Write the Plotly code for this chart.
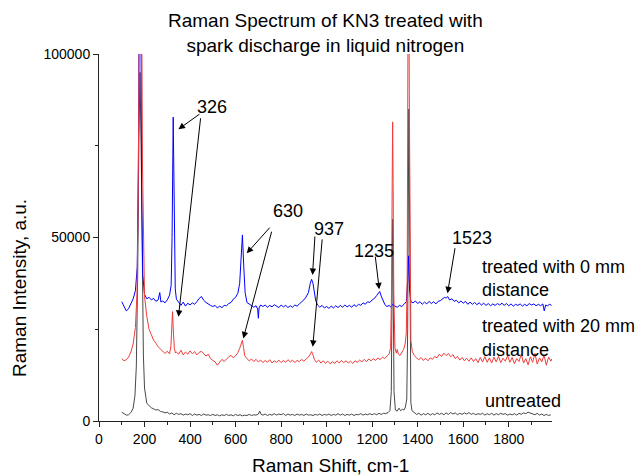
import plotly.graph_objects as go

# ---------------- data ----------------
blue_pts = [(100,32500),(110,31000),(120,30000),(130,30600),(140,31800),(150,33300),(160,35500),(168,42000),
(173,70000),(177,130000),(180,160000),(183,130000),(187,65000),(192,40000),(200,34500),(210,33300),(220,33700),
(230,33000),(240,33400),(250,32600),(260,33000),(267,35000),(272,32400),(280,32700),(290,32200),(300,33000),
(310,34300),(317,37000),(321,50000),(324,75000),(326,82800),(328,72000),(331,48000),(335,36000),(340,33200),
(350,32300),(360,31500),(370,32400),(380,31300),(390,32100),(400,31600),(410,32200),(420,31800),(430,32500),
(440,33400),(450,33900),(460,32900),(470,32300),(480,31800),(490,31500),(500,31200),(510,31500),(520,30800),
(530,31300),(540,30900),(550,31500),(560,31400),(570,32000),(580,32300),(590,33200),(600,33700),(610,34800),
(618,37500),(624,44000),(630,50700),(636,42000),(642,35000),(650,32300),(660,31800),(670,31500),(680,31000),
(690,31400),(697,30500),(700,28000),(703,30800),(710,31600),(720,31200),(730,31600),(740,31000),(750,31500),
(760,31100),(770,31700),(780,31200),(790,30900),(800,31600),(810,31100),(820,31500),(830,30900),(840,31400),
(850,31000),(860,31600),(870,31300),(880,31900),(890,32400),(900,33000),(910,33800),(920,35000),(928,37500),
(934,38600),(940,37500),(946,35000),(952,32800),(960,31600),(970,31000),(980,31500),(990,30800),(1000,31200),
(1010,30700),(1020,31300),(1030,30800),(1040,31400),(1050,30900),(1060,31500),(1070,31000),(1080,31600),
(1090,31100),(1100,31500),(1110,31000),(1120,31700),(1130,31200),(1140,31800),(1150,31500),(1160,32200),
(1170,31800),(1180,32500),(1190,32300),(1200,33000),(1210,33400),(1220,34200),(1227,35000),(1233,35300),
(1240,34000),(1248,32600),(1256,31700),(1265,31200),(1275,31500),(1282,31000),(1290,31800),(1300,31300),
(1310,31000),(1320,31500),(1330,31200),(1340,31800),(1350,32500),(1356,38000),(1360,45000),(1364,36000),
(1370,32500),(1380,32200),(1390,32700),(1400,32000),(1410,32500),(1420,31800),(1430,32400),(1440,31900),
(1450,32600),(1460,32000),(1470,32500),(1480,31900),(1490,32600),(1500,32800),(1510,33200),(1518,33700),
(1525,33500),(1532,33900),(1540,33000),(1550,33300),(1560,32600),(1570,32900),(1580,32200),(1590,32700),
(1600,32100),(1610,32600),(1620,31800),(1630,32400),(1640,31800),(1650,32300),(1660,31700),(1670,32200),
(1680,31600),(1690,32100),(1700,31500),(1710,32000),(1720,31400),(1730,31900),(1740,31500),(1750,32000),
(1760,31600),(1770,32100),(1780,31500),(1790,32000),(1800,31400),(1810,31900),(1820,31300),(1830,31800),
(1840,31500),(1850,31900),(1860,31300),(1870,31800),(1880,31400),(1890,32000),(1900,31600),(1910,31900),
(1920,31400),(1930,31800),(1940,31400),(1950,31900),(1956,30000),(1962,31600),(1970,31400),(1980,31800),(1988,31500)]

red_pts = [(100,17000),(110,16400),(120,16700),(130,17400),(140,18800),(150,21000),(160,25500),(167,35000),
(172,60000),(177,110000),(182,160000),(187,120000),(191,70000),(195,45000),(200,34000),(210,28500),(220,25000),
(230,23500),(240,22000),(250,21200),(260,20200),(270,19600),(280,19000),(290,18400),(300,19000),(310,18300),
(316,20500),(320,25000),(323,29800),(327,24000),(331,19800),(336,18500),(340,18800),(350,18200),(360,19300),
(370,18000),(380,18800),(390,18200),(400,19100),(410,18300),(420,18900),(430,18000),(440,18700),(450,19000),
(460,18200),(470,17700),(480,18200),(490,17000),(500,16500),(510,16100),(520,15200),(530,16000),(540,16800),
(550,16200),(560,17000),(570,17500),(580,17900),(590,17200),(600,17800),(610,18600),(618,19800),(624,21000),
(630,22000),(635,20000),(640,17800),(650,17000),(660,16400),(670,16900),(680,16200),(690,16800),(700,16100),
(710,16600),(720,15900),(730,16500),(740,16000),(750,16700),(760,15800),(770,16400),(780,16000),(790,16600),
(800,15900),(810,16500),(820,16000),(830,16700),(840,16100),(850,16600),(860,15900),(870,16500),(880,16200),
(890,16800),(900,16300),(910,16900),(920,17400),(928,18200),(934,18900),(940,18000),(946,16800),(955,16000),
(965,16600),(975,15800),(985,16400),(995,15700),(1005,16300),(1015,15600),(1025,16200),(1035,15700),
(1045,16400),(1055,15800),(1065,16500),(1075,15900),(1085,16400),(1095,15800),(1105,16300),(1115,15700),
(1125,16400),(1135,16000),(1145,16600),(1155,16100),(1165,16800),(1175,16200),(1185,16900),(1195,16400),
(1205,17000),(1215,16500),(1225,17200),(1235,16700),(1245,17400),(1255,17000),(1265,17800),(1275,18300),
(1281,20000),(1285,35000),(1288,65000),(1290,81500),(1292,65000),(1295,35000),(1300,20000),(1306,18500),
(1310,19500),(1315,18200),(1322,17800),(1330,18600),(1338,19500),(1345,21000),(1350,24000),(1354,40000),
(1357,90000),(1360,160000),(1363,90000),(1366,40000),(1370,22000),(1376,19000),(1385,17800),(1395,17200),
(1405,16700),(1415,17300),(1425,16500),(1435,17100),(1445,16400),(1455,17200),(1465,16800),(1475,17600),
(1485,17200),(1495,18200),(1505,17600),(1515,18500),(1525,17800),(1535,18400),(1545,17500),(1555,18100),
(1565,17000),(1575,17600),(1585,16600),(1595,17300),(1605,16400),(1615,17100),(1625,16300),(1635,17200),
(1645,16200),(1655,17000),(1665,15900),(1675,17300),(1685,16100),(1695,17500),(1705,16000),(1715,17200),
(1725,15800),(1735,17400),(1745,16100),(1755,17600),(1765,15900),(1775,17100),(1785,16300),(1795,17800),
(1805,16000),(1815,17300),(1825,15600),(1835,17000),(1845,16200),(1855,18200),(1865,15800),(1875,17000),
(1885,15300),(1895,17500),(1905,16000),(1915,18400),(1925,15500),(1935,17200),(1945,16100),(1955,18000),
(1965,15200),(1975,17400),(1985,16300),(1990,17000)]

gray_pts = [(100,2400),(110,1900),(120,1600),(130,1700),(140,2300),(150,3500),(158,7000),(164,15000),(170,40000),
(175,75000),(180,95000),(185,75000),(190,40000),(195,18000),(200,9000),(205,6000),(210,4800),(220,4200),
(230,3600),(240,3300),(250,3000),(260,3100),(270,2600),(280,2500),(290,2200),(300,2400),(310,1900),(320,2200),
(330,1700),(340,2100),(350,1800),(360,2000),(370,1600),(380,1900),(390,1700),(400,2000),(410,1500),(420,1900),
(430,1600),(440,1800),(450,1500),(460,1900),(470,1600),(480,1700),(490,1500),(500,1800),(510,1500),(520,1700),
(530,1400),(540,1700),(550,1500),(560,1800),(570,1500),(580,1700),(590,1400),(600,1800),(610,1500),(620,1700),
(630,1400),(640,1600),(650,1500),(660,1800),(670,1500),(680,1700),(690,1600),(700,1900),(706,2700),(712,1800),
(720,1600),(730,1900),(740,1500),(750,1800),(760,1600),(770,2000),(780,1600),(790,1900),(800,1700),(810,2000),
(820,1500),(830,1900),(840,1600),(850,1800),(860,1500),(870,1900),(880,1600),(890,1800),(900,1500),(910,1900),
(920,1600),(930,1700),(940,1500),(950,1800),(960,1600),(970,1900),(980,1500),(990,1800),(1000,1600),
(1010,1900),(1020,1500),(1030,1800),(1040,1600),(1050,2000),(1060,1600),(1070,1900),(1080,1500),(1090,1800),
(1100,1600),(1110,1900),(1120,1500),(1130,1800),(1140,1700),(1150,2000),(1160,1600),(1170,1900),(1180,1700),
(1190,2000),(1200,1700),(1210,2000),(1220,1700),(1230,2100),(1240,1800),(1250,2100),(1260,2000),(1270,2300),
(1278,2800),(1284,8000),(1288,40000),(1290,55000),(1292,40000),(1296,8000),(1302,3000),(1310,2700),(1318,3500),
(1325,2800),(1333,3200),(1340,3000),(1346,3800),(1352,6000),(1356,25000),(1359,70000),(1361,85000),(1363,70000),
(1366,25000),(1370,5000),(1375,2800),(1385,2200),(1395,1800),(1405,2100),(1415,1600),(1425,2000),(1435,1700),
(1445,2100),(1455,1600),(1465,2000),(1475,1700),(1485,2200),(1495,1800),(1505,2100),(1515,1700),(1525,2200),
(1535,1800),(1545,2300),(1555,1900),(1565,2200),(1575,1700),(1585,2100),(1595,1800),(1605,2200),(1615,1900),
(1625,2300),(1635,1800),(1645,2100),(1655,1700),(1665,2000),(1675,1800),(1685,2100),(1695,1600),(1705,2000),
(1715,1700),(1725,2100),(1735,1600),(1745,2000),(1755,1700),(1765,2100),(1775,1800),(1785,2000),(1795,1600),
(1805,1900),(1815,1700),(1825,2000),(1835,1600),(1845,2100),(1855,1800),(1865,2200),(1875,2000),(1885,2400),
(1895,2200),(1905,2000),(1915,1700),(1925,2100),(1935,1600),(1945,1900),(1955,1500),(1965,1800),(1975,1500),(1985,1700)]

# peak labels: text, x, y
peak_labels = [("326", 497, 85600), ("630", 831, 57300), ("937", 1011, 52200),
               ("1235", 1206, 46300), ("1523", 1637, 49800)]
# arrows: head x, head y, tail x, tail y
arrows = [(349, 79500, 448, 83900), (349, 28400, 447, 82900),
          (649, 45700, 756, 53100), (634, 22500, 760, 52000),
          (938, 39800, 949, 50700), (939, 20200, 981, 49900),
          (1231, 35900, 1213, 45200), (1531, 34800, 1565, 47500)]
# series labels: text, x, y
series_labels = [("treated with 0 mm", 1675, 42000), ("distance", 1675, 35700),
                 ("treated with 20 mm", 1675, 25900), ("distance", 1675, 19300),
                 ("untreated", 1688, 5400)]

x_ticks = [0, 200, 400, 600, 800, 1000, 1200, 1400, 1600, 1800]
y_ticks = [0, 50000, 100000]

FONT = "Liberation Sans, Arial, sans-serif"

fig = go.Figure()
for pts, col in [(gray_pts, "#484848"), (blue_pts, "#0000ff"), (red_pts, "#f03c3c")]:
    fig.add_trace(go.Scatter(x=[p[0] for p in pts], y=[p[1] for p in pts], mode="lines",
                             line=dict(color=col, width=1), showlegend=False, hoverinfo="skip"))

ann = []
for t, x, y in peak_labels:
    ann.append(dict(text=t, x=x, y=y, xref="x", yref="y", showarrow=False,
                    font=dict(size=18, color="black", family=FONT)))
for hx, hy, tx, ty in arrows:
    ann.append(dict(text="", x=hx, y=hy, ax=tx, ay=ty, xref="x", yref="y", axref="x", ayref="y",
                    showarrow=True, arrowhead=2, arrowsize=1.3, arrowwidth=1, arrowcolor="black"))
for t, x, y in series_labels:
    ann.append(dict(text=t, x=x, y=y, xref="x", yref="y", xanchor="left", showarrow=False,
                    font=dict(size=18, color="black", family=FONT)))
# titles (positions given in pixels, converted to paper coords)
W, H = 644, 476
L, R, T, B = 99, 92, 54, 55
titles = [("Raman Spectrum of KN3 treated with<br>spark discharge in liquid nitrogen", 325, 33, 0),
          ("Raman Shift, cm-1", 330, 465, 0),
          ("Raman Intensity, a.u.", 19, 288, -90)]
for t, px, py, ang in titles:
    ann.append(dict(text=t, x=(px - L) / (W - L - R), y=1 - (py - T) / (H - T - B),
                    xref="paper", yref="paper", xanchor="center", yanchor="middle",
                    textangle=ang, showarrow=False,
                    font=dict(size=19, color="black", family=FONT)))

fig.update_layout(
    width=W, height=H, margin=dict(l=L, r=R, t=T, b=B),
    paper_bgcolor="white", plot_bgcolor="white",
    font=dict(family=FONT, color="black", size=14),
    annotations=ann,
    xaxis=dict(range=[0, 1990], tickvals=x_ticks, ticks="outside", ticklen=5, tickcolor="#222",
               showline=True, linecolor="#222", linewidth=1, showgrid=False, zeroline=False,
               tickfont=dict(size=14), minor=dict(dtick=100, tick0=0, ticks="outside", ticklen=3, tickcolor="#222")),
    yaxis=dict(range=[0, 100000], tickvals=y_ticks, ticktext=[str(v) for v in y_ticks], ticks="outside",
               ticklen=5, tickcolor="#222", showline=True, linecolor="#222", linewidth=1, showgrid=False,
               zeroline=False, tickfont=dict(size=14),
               minor=dict(dtick=25000, tick0=0, ticks="outside", ticklen=3, tickcolor="#222")),
)
fig.write_html("out.html")
